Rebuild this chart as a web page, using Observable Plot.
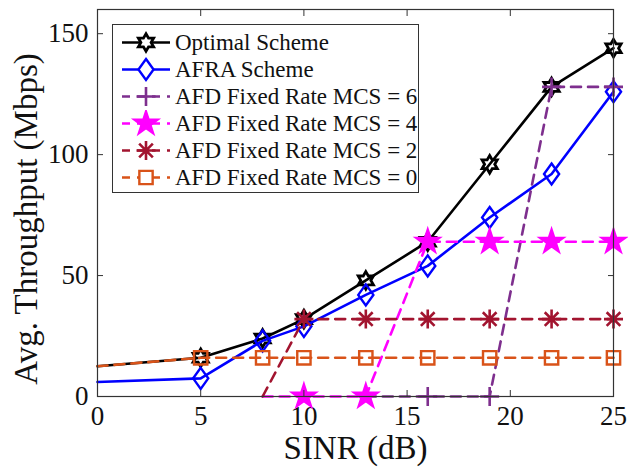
<!DOCTYPE html>
<html>
<head>
<meta charset="utf-8">
<script src="https://cdn.jsdelivr.net/npm/d3@7"></script>
<script src="https://cdn.jsdelivr.net/npm/@observablehq/plot@0.6"></script>
<style>
  html, body { margin: 0; padding: 0; background: white; }
  #wrap { position: relative; width: 628px; height: 473px; }
  #legend { position: absolute; left: 112px; top: 24px; width: 307px; height: 169px;
    border: 1px solid #333; background: white; box-sizing: border-box;
    font-family: "Liberation Serif", "Tinos", "Times New Roman", "Nimbus Roman", "DejaVu Serif", serif; font-size: 23px; color: #111; }
  .row { position: absolute; left: 0; height: 27px; display: flex; align-items: center; }
  .row svg { display: block; }
  .row span { margin-left: 4px; white-space: nowrap; line-height: 27px; }
</style>
</head>
<body>
<div id="wrap"><div id="legend"></div></div>
<script>
// ---------- data ----------
const xTicks = [0, 5, 10, 15, 20, 25];
const yTicks = [0, 50, 100, 150];

const optimalX = [0, 5, 8, 10, 13, 16, 19, 22, 25];
const optimalY = [12.5, 16, 24, 32, 48, 64, 96, 128, 144];

const afraX = [0, 5, 8, 10, 13, 16, 19, 22, 25];
const afraY = [6, 7.5, 23, 29, 42, 54, 74, 92, 126];

const mcs6X = [13, 16, 19, 22, 25];
const mcs6Y = [0, 0, 0, 128, 128];

const mcs4X = [8, 10, 13, 16, 19, 22, 25];
const mcs4Y = [0, 0, 0, 64, 64, 64, 64];

const mcs2X = [8, 10, 13, 16, 19, 22, 25];
const mcs2Y = [0, 32, 32, 32, 32, 32, 32];

const mcs0X = [0, 5, 8, 10, 13, 16, 19, 22, 25];
const mcs0Y = [12.5, 16, 16, 16, 16, 16, 16, 16, 16];

const seriesNames = ["Optimal Scheme", "AFRA Scheme", "AFD Fixed Rate MCS = 6",
  "AFD Fixed Rate MCS = 4", "AFD Fixed Rate MCS = 2", "AFD Fixed Rate MCS = 0"];

const FONT = '"Liberation Serif", "Tinos", "Times New Roman", "Nimbus Roman", "DejaVu Serif", serif';

// ---------- symbols ----------
function sym(fn) { return { draw(ctx, size) { fn(ctx, Math.sqrt(size / Math.PI)); } }; }
function starPath(ctx, n, R, ri) {
  for (let i = 0; i < 2 * n; i++) {
    const a = -Math.PI / 2 + i * Math.PI / n;
    const rr = i % 2 === 0 ? R : ri;
    const px = rr * Math.cos(a), py = rr * Math.sin(a);
    if (i === 0) ctx.moveTo(px, py); else ctx.lineTo(px, py);
  }
  ctx.closePath();
}
const hexagram = sym((c, r) => starPath(c, 6, r, r / Math.sqrt(3)));
const pentagram = sym((c, r) => starPath(c, 5, r, r * 0.382));
const diamond = sym((c, r) => { c.moveTo(0, -r); c.lineTo(r * 0.72, 0); c.lineTo(0, r); c.lineTo(-r * 0.72, 0); c.closePath(); });
const square = sym((c, r) => { const h = r * 0.7; c.moveTo(-h, -h); c.lineTo(h, -h); c.lineTo(h, h); c.lineTo(-h, h); c.closePath(); });
const plus = sym((c, r) => { c.moveTo(-r, 0); c.lineTo(r, 0); c.moveTo(0, -r); c.lineTo(0, r); });
const asterisk = sym((c, r) => {
  c.moveTo(-r, 0); c.lineTo(r, 0); c.moveTo(0, -r); c.lineTo(0, r);
  const d = r * 0.72; c.moveTo(-d, -d); c.lineTo(d, d); c.moveTo(-d, d); c.lineTo(d, -d);
});

const series = [
  { name: seriesNames[0], xs: optimalX, ys: optimalY, color: "#000000", dash: null, symbol: hexagram, r: 8.8, fill: "none", sw: 2.8 },
  { name: seriesNames[1], xs: afraX, ys: afraY, color: "#0000ff", dash: null, symbol: diamond, r: 10.5, fill: "none", sw: 2.4 },
  { name: seriesNames[2], xs: mcs6X, ys: mcs6Y, color: "#7e2f8e", dash: "10,7", symbol: plus, r: 9.5, fill: "none", sw: 2.6 },
  { name: seriesNames[3], xs: mcs4X, ys: mcs4Y, color: "#ff00ff", dash: "10,7", symbol: pentagram, r: 12, fill: "#ff00ff", sw: 2.4 },
  { name: seriesNames[4], xs: mcs2X, ys: mcs2Y, color: "#a2142f", dash: "10,7", symbol: asterisk, r: 9.5, fill: "none", sw: 2.6 },
  { name: seriesNames[5], xs: mcs0X, ys: mcs0Y, color: "#d95319", dash: "10,7", symbol: square, r: 9.5, fill: "none", sw: 2.4 }
];

const marks = [];
for (const s of series) {
  const pts = s.xs.map((x, i) => ({ x, y: s.ys[i], first: i === 0 }));
  marks.push(Plot.line(pts, { x: "x", y: "y", stroke: s.color, strokeWidth: 2.6,
    strokeDasharray: s.dash ?? undefined, strokeLinejoin: "round" }));
  marks.push(Plot.dot(pts.filter(d => !d.first), { x: "x", y: "y", symbol: s.symbol, r: s.r,
    stroke: s.color, fill: s.fill, strokeWidth: s.sw }));
}

const chart = Plot.plot({
  width: 628, height: 473,
  marginLeft: 97, marginRight: 15, marginTop: 9, marginBottom: 77,
  x: { domain: [0, 25] },
  y: { domain: [0, 160] },
  style: { fontFamily: FONT, fontSize: "27px", color: "#111", background: "white", overflow: "visible" },
  marks: [
    Plot.axisX({ ticks: xTicks, tickSize: 0, tickPadding: 9, label: null }),
    Plot.axisY({ ticks: yTicks, tickSize: 0, tickPadding: 9, label: null }),
    ...marks,
    Plot.axisX({ ticks: xTicks, tickSize: -6, tickFormat: () => "", label: null, stroke: "#333" }),
    Plot.axisX({ anchor: "top", ticks: xTicks, tickSize: -6, tickFormat: () => "", label: null, stroke: "#333" }),
    Plot.axisY({ ticks: yTicks, tickSize: -6, tickFormat: () => "", label: null, stroke: "#333" }),
    Plot.axisY({ anchor: "right", ticks: yTicks, tickSize: -6, tickFormat: () => "", label: null, stroke: "#333" }),
    Plot.frame({ stroke: "#333", strokeWidth: 1.2 }),
    Plot.text(["SINR (dB)"], { frameAnchor: "bottom", dy: 62, fontSize: 33, fill: "#111" }),
    Plot.text(["Avg. Throughput (Mbps)"], { frameAnchor: "left", textAnchor: "middle", dx: -71, dy: 16, rotate: -90, fontSize: 33, fill: "#111" })
  ]
});
document.getElementById("wrap").prepend(chart);

// ---------- legend ----------
const legend = document.getElementById("legend");
series.forEach((s, i) => {
  const row = document.createElement("div");
  row.className = "row";
  row.style.top = (4 + i * 27) + "px";
  const w = 50, h = 27;
  const svg = d3.create("svg").attr("width", w).attr("height", h).style("margin-left", "8px");
  svg.append("line").attr("x1", 1).attr("x2", w - 1).attr("y1", h / 2).attr("y2", h / 2)
    .attr("stroke", s.color).attr("stroke-width", 2.6).attr("stroke-dasharray", s.dash ? "8,7" : null);
  const p = d3.path();
  s.symbol.draw(p, s.r * s.r * Math.PI);
  svg.append("path").attr("d", p.toString()).attr("transform", `translate(${w / 2},${h / 2})`)
    .attr("stroke", s.color).attr("fill", s.fill === "none" ? "white" : s.fill).attr("stroke-width", s.sw);
  row.appendChild(svg.node());
  const t = document.createElement("span");
  t.textContent = s.name;
  row.appendChild(t);
  legend.appendChild(row);
});
</script>
</body>
</html>
